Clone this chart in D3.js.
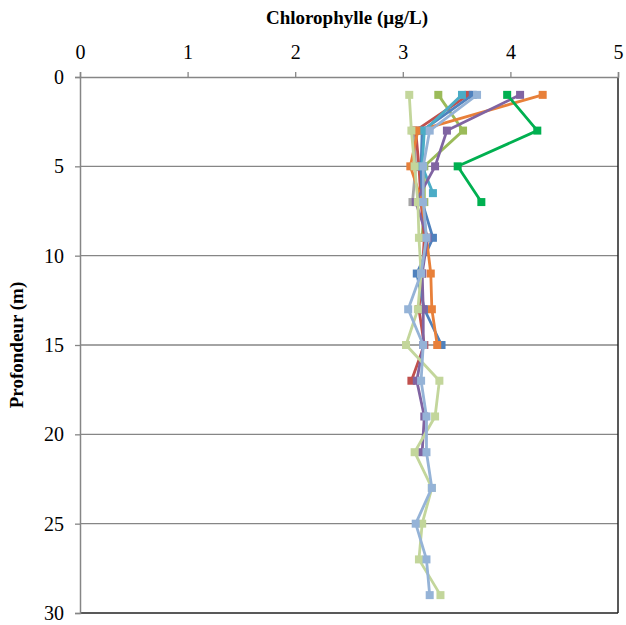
<!DOCTYPE html>
<html><head><meta charset="utf-8">
<script src="https://cdn.jsdelivr.net/npm/d3@7"></script>
<style>body{margin:0;background:#fff}</style>
</head><body>
<svg id="c" width="626" height="625"></svg>
<script>
const xTicks = [0,1,2,3,4,5];
const yTicks = [0,5,10,15,20,25,30];
const seriesNames = ["S1","S2","S3","S4","S5","S6","S7","S8","S9","S10"];
const seriesColors = ["#C3D69B","#95B3D7","#C0504D","#4F81BD","#8064A2","#9BBB59","#E8803A","#4BACC6","#A5A5A5","#00B050"];
const depthsS1 = [1,3,5,7,9,11,13,15,17,19,21,23,25,27,29];
const valuesS1 = [3.06,3.08,3.11,3.14,3.15,3.17,3.14,3.03,3.34,3.30,3.11,3.27,3.18,3.15,3.35];
const depthsS2 = [1,3,5,7,9,11,13,15,17,19,21,23,25,27,29];
const valuesS2 = [3.69,3.25,3.19,3.19,3.22,3.17,3.05,3.19,3.17,3.22,3.22,3.27,3.12,3.22,3.25];
const depthsS3 = [1,3,5,7,9,11,13,15,17];
const valuesS3 = [3.61,3.12,3.15,3.17,3.20,3.18,3.15,3.20,3.08];
const depthsS4 = [1,3,5,7,9,11,13,15];
const valuesS4 = [3.65,3.18,3.17,3.18,3.28,3.13,3.20,3.36];
const depthsS5 = [1,3,5,7,9,11,13,15,17,19,21];
const valuesS5 = [4.09,3.41,3.30,3.12,3.23,3.18,3.19,3.19,3.13,3.20,3.18];
const depthsS6 = [1,3,5,7,9];
const valuesS6 = [3.33,3.56,3.20,3.20,3.18];
const depthsS7 = [1,3,5,7,9,11,13,15];
const valuesS7 = [4.30,3.14,3.07,3.18,3.22,3.26,3.27,3.32];
const depthsS8 = [1,3,5,6.5];
const valuesS8 = [3.55,3.20,3.18,3.28];
const depthsS9 = [3,5,7];
const valuesS9 = [3.10,3.12,3.09];
const depthsS10 = [1,3,5,7];
const valuesS10 = [3.97,4.25,3.51,3.73];

const allDepths = [depthsS1,depthsS2,depthsS3,depthsS4,depthsS5,depthsS6,depthsS7,depthsS8,depthsS9,depthsS10];
const allValues = [valuesS1,valuesS2,valuesS3,valuesS4,valuesS5,valuesS6,valuesS7,valuesS8,valuesS9,valuesS10];
const drawOrder = [8,5,2,3,6,7,4,9,0,1];

const svg = d3.select("#c");
const L=80,R=618,T=77,B=613;
const x = d3.scaleLinear().domain([0,5]).range([L,R]);
const y = d3.scaleLinear().domain([0,30]).range([T,B]);
const font = "'Liberation Serif','Times New Roman',serif";

svg.append("g").selectAll("line").data(yTicks.filter(d=>d>0&&d<30)).join("line")
  .attr("x1",L).attr("x2",R).attr("y1",d=>y(d)).attr("y2",d=>y(d))
  .attr("stroke","#868686").attr("stroke-width",1.3);

svg.append("line").attr("x1",R).attr("x2",R).attr("y1",T).attr("y2",B).attr("stroke","#222").attr("stroke-width",1.5);
svg.append("line").attr("x1",L).attr("x2",R).attr("y1",B).attr("y2",B).attr("stroke","#222").attr("stroke-width",1.5);

const xAxis = d3.axisTop(x).tickValues(xTicks).tickSize(5).tickPadding(13).tickFormat(d3.format("d"));
const gx = svg.append("g").attr("transform",`translate(0,${T})`).call(xAxis);
const yAxis = d3.axisLeft(y).tickValues(yTicks).tickSize(5).tickPadding(11).tickFormat(d3.format("d"));
const gy = svg.append("g").attr("transform",`translate(${L},0)`).call(yAxis);
[gx,gy].forEach(g=>{
  g.select(".domain").attr("stroke","#868686").attr("stroke-width",1.5);
  g.selectAll(".tick line").attr("stroke","#868686").attr("stroke-width",1.3);
  g.selectAll(".tick text").attr("font-family",font).attr("font-size",20).attr("fill","#000");
});

const line = d3.line().x(d=>x(d[1])).y(d=>y(d[0]));
drawOrder.forEach(i=>{
  const pts = allDepths[i].map((d,k)=>[d, allValues[i][k]]);
  const g = svg.append("g");
  g.append("path").datum(pts).attr("d",line).attr("fill","none")
    .attr("stroke",seriesColors[i]).attr("stroke-width",2.8).attr("stroke-linejoin","round");
  g.selectAll("rect").data(pts).join("rect")
    .attr("x",d=>x(d[1])-4).attr("y",d=>y(d[0])-4).attr("width",8).attr("height",8)
    .attr("fill",seriesColors[i]);
});

svg.append("text").attr("x",347).attr("y",24).attr("text-anchor","middle")
  .attr("font-family",font).attr("font-weight","bold").attr("font-size",19).text("Chlorophylle (µg/L)");
svg.append("text").attr("transform",`translate(23,345) rotate(-90)`).attr("text-anchor","middle")
  .attr("font-family",font).attr("font-weight","bold").attr("font-size",19).text("Profondeur (m)");
</script>
</body></html>
